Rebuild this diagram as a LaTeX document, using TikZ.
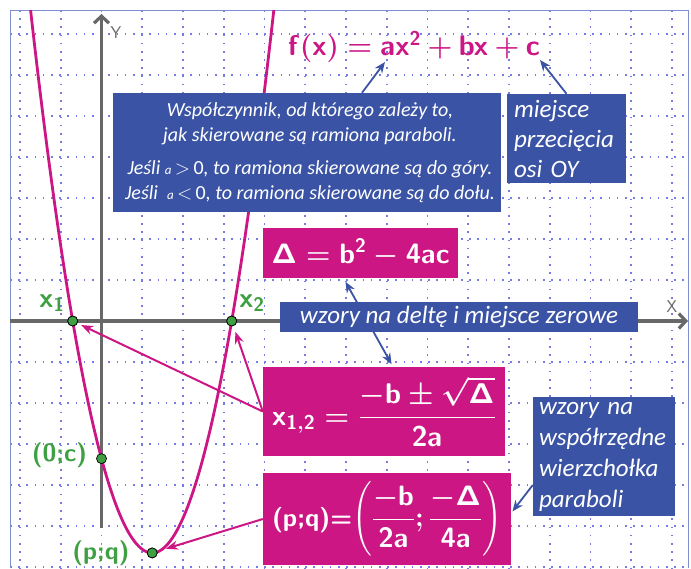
\RequirePackage{fix-cm}
\documentclass[tikz,border=0pt]{standalone}
\usepackage{amsmath}
\usepackage{fontspec}
\newfontfamily\calibri{Carlito}[ItalicFont=Carlito Italic, BoldFont=Carlito Bold]
\DeclareMathAlphabet{\mathssb}{OT1}{cmss}{bx}{n}
\usetikzlibrary{arrows.meta}

\definecolor{paraPink}{RGB}{204,22,132}
\definecolor{boxBlue}{RGB}{58,83,164}
\definecolor{ptGreen}{RGB}{62,160,66}
\definecolor{axisGray}{RGB}{104,104,104}
\definecolor{gridDot}{RGB}{118,124,228}
\definecolor{frameBlue}{RGB}{128,142,206}

\tikzset{
  bluebox/.style={fill=boxBlue, text=white, inner sep=0pt},
  pinkbox/.style={fill=paraPink, text=white, inner sep=0pt},
  bluearrow/.style={boxBlue, line width=1.8pt, -{Stealth[length=11pt,width=9pt]}},
  pinkarrow/.style={paraPink, line width=2pt, -{Stealth[length=12pt,width=9pt]}},
  gpoint/.style={circle, fill=ptGreen, draw=black, line width=0.7pt, inner sep=0pt, minimum size=10pt},
  glabel/.style={ptGreen, font=\fontsize{25}{25}\selectfont\sffamily\bfseries\boldmath},
  gridline/.style={gridDot, line width=1.6pt, dash pattern=on 1.6pt off 6.6pt},
  axisline/.style={axisGray, line width=3.2pt, -{Straight Barb[length=7pt,width=15pt]}},
}

\begin{document}
\begin{tikzpicture}[x=1pt,y=-1pt]
    \useasboundingbox (0,0) rectangle (691,568);

    % Dotted grid inside the frame
    \begin{scope}
      \clip (10,10) rectangle (688,568);
      \foreach \i in {-2,...,14}
        \draw[gridline] ({101.5+40.75*\i},10) -- ({101.5+40.75*\i},568);
      \foreach \j in {-6,...,7}
        \draw[gridline] (10,{321-41*\j}) -- (688,{321-41*\j});
    \end{scope}
    \draw[frameBlue, line width=0.9pt] (10,568) -- (10,10) -- (688,10) -- (688,568);

    % Axes
    \draw[axisline] (10,321) -- (688,321);
    \draw[axisline] (101.5,528) -- (101.5,14);
    \node[axisGray, font=\sffamily\fontsize{17}{17}\selectfont] (ylab) at (116,33) {Y};
    \node[axisGray, font=\sffamily\fontsize{17}{17}\selectfont] (xlab) at (672,307) {X};

    % Parabola
    \begin{scope}
      \clip (10,10) rectangle (688,568);
      \draw[paraPink, line width=2.8pt, domain=28:277, samples=120]
        plot (\x, {321+0.0367*(\x-72.7)*(231.7-\x)});
    \end{scope}

    % Formula and its notes
    \node[paraPink, font=\fontsize{28.5}{30}\selectfont\boldmath] (fx) at (414,47)
      {\thickmuskip=4.5mu\medmuskip=3.5mu$\mathssb{f(x)} = \mathssb{ax^2 + bx + c}$};
    \coordinate (ax) at (385,62);
    \coordinate (cc) at (540,60);

    \node[bluebox, minimum width=388pt, minimum height=119pt, align=center,
          font=\calibri\itshape\fontsize{20}{24.5}\selectfont] (coef) at (307,152.5)
      {\hspace*{6pt}Współczynnik, od którego zależy to,\\
       \hspace*{6pt}jak skierowane są ramiona paraboli.\\[9pt]
       \hspace*{6pt}Jeśli {\fontsize{13}{13}\selectfont a}\,$>$\,\textup{0}, to ramiona skierowane są do góry.\\
       \hspace*{6pt}Jeśli\ \ {\fontsize{13}{13}\selectfont a}\,$<$\,\textup{0}, to ramiona skierowane są do dołu.};
    \node[bluebox, text width=105pt, inner xsep=7pt, minimum height=89pt, align=left,
          font=\calibri\itshape\fontsize{25}{30}\selectfont] (oy) at (566.5,138.5)
      {miejsce\\ przecięcia\\ osi OY};

    \draw[bluearrow] ([xshift=55pt]coef.north) -- (ax);
    \draw[bluearrow] (oy.north) -- (cc);

    % Delta and roots
    \node[pinkbox, minimum width=195pt, minimum height=50pt,
          font=\fontsize{28}{30}\selectfont\boldmath] (delta) at (360.5,253)
      {$\mathssb{\Delta = b^2 - 4ac}$};
    \node[pinkbox, minimum width=242pt, minimum height=89pt,
          font=\fontsize{28.5}{30}\selectfont\boldmath] (xroots) at (384,411.5)
      {$\mathssb{x_{1,2}} = \dfrac{-\mathssb{b} \pm \sqrt{\mathssb{\Delta}}}{\mathssb{2a}}$};
    \draw[bluearrow, {Stealth[length=11pt,width=9pt]}-{Stealth[length=11pt,width=9pt]},
          shorten <=4pt, shorten >=3pt] ([xshift=-17pt]delta.south) -- ([xshift=9pt]xroots.north);
    \node[bluebox, minimum width=358pt, minimum height=30pt,
          font=\calibri\itshape\fontsize{25}{26}\selectfont] (zer) at (459,317)
      {wzory na deltę i miejsce zerowe};

    % Vertex
    \node[pinkbox, minimum width=248pt, minimum height=92pt,
          font=\fontsize{28}{30}\selectfont\boldmath] (vertex) at (387,519)
      {{\sffamily\bfseries\fontsize{25.5}{27}\selectfont (p;q)=}$\left(\dfrac{-\mathssb{b}}{\mathssb{2a}};\dfrac{-\mathssb{\Delta}}{\mathssb{4a}}\right)$};
    \node[bluebox, text width=130pt, inner xsep=6pt, minimum height=119pt, align=left,
          font=\calibri\itshape\fontsize{25}{31}\selectfont] (wierz) at (604,456.5)
      {wzory na\\ współrzędne\\ wierzchołka\\ paraboli};
    \draw[bluearrow, shorten >=2pt] ([yshift=-28.5pt]wierz.west) -- ([yshift=6pt]vertex.east);

    % Special points of the graph
    \node[gpoint] (p1) at (72.7,321) {};
    \node[gpoint] (p2) at (231.7,321) {};
    \node[gpoint] (pc) at (101.5,{321+0.0367*(101.5-72.7)*(231.7-101.5)}) {};
    \node[gpoint] (pv) at (152.2,{321+0.0367*79.5*79.5}) {};

    \draw[pinkarrow, shorten >=4pt] (xroots.west) -- (p1);
    \draw[pinkarrow, shorten >=6pt] (xroots.west) -- (p2);
    \draw[pinkarrow, shorten >=9pt] (vertex.west) -- (pv);
    \node[gpoint] at (p1) {};
    \node[gpoint] at (p2) {};
    \node[gpoint] at (pv) {};

    \node[glabel, font=\fontsize{28}{28}\selectfont\boldmath] (x1lab) at (52,303) {$\mathssb{x_1}$};
    \node[glabel, font=\fontsize{28}{28}\selectfont\boldmath] (x2lab) at (252,303) {$\mathssb{x_2}$};
    \node[glabel] (pclab) at (59.5,455) {(0;c)};
    \node[glabel] (pvlab) at (101,553) {(p;q)};
\end{tikzpicture}
\end{document}
